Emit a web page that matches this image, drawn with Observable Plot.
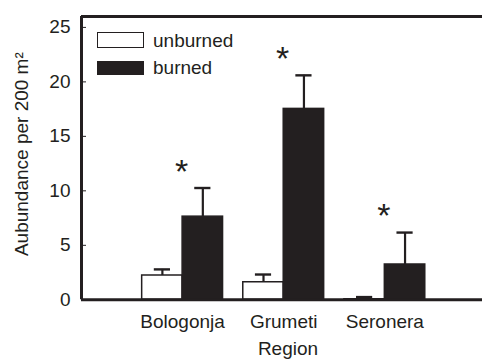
<!DOCTYPE html>
<html>
<head>
<meta charset="utf-8">
<script src="https://cdn.jsdelivr.net/npm/d3@7"></script>
<script src="https://cdn.jsdelivr.net/npm/@observablehq/plot@0.6"></script>
<style>
  body { margin: 0; background: #fff; }
  #chart { position: relative; width: 482px; height: 362px; font-family: "Liberation Sans", Arial, sans-serif; color: #231f20; }
  #chart svg { display: block; }
  .lg-box { position: absolute; box-sizing: border-box; width: 47px; border: 1.5px solid #231f20; }
  .lg-text { position: absolute; font-size: 19px; line-height: 1; white-space: nowrap; }
</style>
</head>
<body>
<div id="chart"></div>
<script>
// ---- data ----
const regions = ["Bologonja", "Grumeti", "Seronera"];
const unburnedMean = [2.23, 1.61, 0.05];
const unburnedErr = [0.56, 0.71, 0.2];
const burnedMean = [7.63, 17.52, 3.24];
const burnedErr = [2.63, 3.08, 2.93];
const significant = [true, true, true];
const seriesNames = ["unburned", "burned"];
const yTicks = [0, 5, 10, 15, 20, 25];
const yDomain = [0, 26];
const axisTitleY = "Aubundance per 200 m²";
const axisTitleX = "Region";

// ---- styles ----
const ink = "#231f20";
const seriesFill = ["#ffffff", ink];
const barHalf = 0.4;   // bar width in x units
const capHalf = 0.08;

const rows = regions.flatMap((r, i) => [
  {region: r, pos: i + 1, series: seriesNames[0], side: -1, mean: unburnedMean[i], err: unburnedErr[i]},
  {region: r, pos: i + 1, series: seriesNames[1], side: 1, mean: burnedMean[i], err: burnedErr[i]}
]);
const center = d => d.pos + d.side * barHalf / 2;
const stars = regions.map((r, i) => ({pos: i + 1, top: burnedMean[i] + burnedErr[i], sig: significant[i]})).filter(d => d.sig);

const plot = Plot.plot({
  width: 482,
  height: 362,
  marginLeft: 81,
  marginRight: 0,
  marginTop: 16,
  marginBottom: 62.7,
  style: {fontFamily: "Liberation Sans, Arial, sans-serif", fontSize: "19px", color: ink, background: "#fff"},
  x: {type: "linear", domain: [0, 3.966], axis: null},
  y: {domain: yDomain, axis: null},
  color: {domain: seriesNames, range: seriesFill},
  marks: [
    Plot.rectY(rows, {
      x1: d => d.side < 0 ? d.pos - barHalf : d.pos,
      x2: d => d.side < 0 ? d.pos : d.pos + barHalf,
      y1: 0, y2: "mean", fill: "series", stroke: ink, strokeWidth: 1.5
    }),
    Plot.ruleX(rows, {x: center, y1: "mean", y2: d => d.mean + d.err, stroke: ink, strokeWidth: 2.2}),
    Plot.ruleY(rows, {y: d => d.mean + d.err, x1: d => center(d) - capHalf, x2: d => center(d) + capHalf, stroke: ink, strokeWidth: 2.4}),
    Plot.text(stars, {x: "pos", y: "top", text: () => "*", fontSize: 34, fill: ink, dx: -1, dy: -16, lineAnchor: "middle"}),
    Plot.axisY(yTicks, {tickSize: -5, tickPadding: 16, stroke: ink, fill: ink, label: null, fontSize: 19}),
    Plot.axisX([1, 2, 3], {tickSize: 0, tickPadding: 15, tickFormat: d => regions[d - 1], fill: ink, label: null, fontSize: 19}),
    Plot.text([axisTitleX], {frameAnchor: "bottom", dy: 55, dx: 6, fill: ink, fontSize: 19}),
    Plot.text([axisTitleY], {frameAnchor: "left", textAnchor: "middle", rotate: -90, dx: -60, dy: -4, fill: ink, fontSize: 19}),
    Plot.ruleY([yDomain[1]], {stroke: ink, strokeWidth: 3}),
    Plot.ruleY([0], {stroke: ink, strokeWidth: 3}),
    Plot.ruleX([0], {stroke: ink, strokeWidth: 3, y1: yDomain[0], y2: yDomain[1]})
  ]
});

const chart = document.getElementById("chart");
chart.appendChild(plot);

// legend (HTML overlay)
const legendItems = [
  {name: seriesNames[0], fill: seriesFill[0], boxTop: 32, boxH: 15.5, textTop: 30.6},
  {name: seriesNames[1], fill: seriesFill[1], boxTop: 61, boxH: 13.5, textTop: 57.9}
];
for (const it of legendItems) {
  const b = document.createElement("div");
  b.className = "lg-box";
  b.style.left = "97px";
  b.style.top = it.boxTop + "px";
  b.style.height = it.boxH + "px";
  b.style.background = it.fill;
  chart.appendChild(b);
  const t = document.createElement("div");
  t.className = "lg-text";
  t.style.left = "153px";
  t.style.top = it.textTop + "px";
  t.textContent = it.name;
  chart.appendChild(t);
}
</script>
</body>
</html>
